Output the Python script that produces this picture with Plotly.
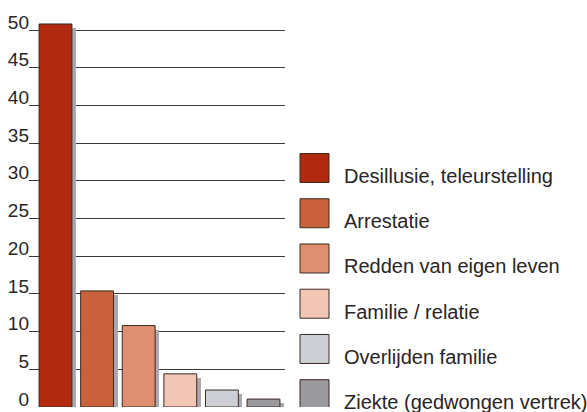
import plotly.graph_objects as go

categories = ["Desillusie, teleurstelling", "Arrestatie", "Redden van eigen leven",
              "Familie / relatie", "Overlijden familie", "Ziekte (gedwongen vertrek)"]
values = [50.8, 15.4, 10.8, 4.4, 2.25, 1.05]
colors = ["#B12A10", "#C9623C", "#DE8F71", "#F1C6B4", "#CDCFD4", "#9A999E"]
y_ticks = [0, 5, 10, 15, 20, 25, 30, 35, 40, 45, 50]

W, H = 587, 412
ml, mr, mt, mb = 29, 0, 0, 5
plot_w = W - ml - mr
plot_h = H - mt - mb
main_right = 285
step = 41.6                 # px per category
ppu = 7.54                  # px per y unit
x_lo = -26.5 / step
x_hi = 5 + (256 - 234.5) / step
y_top = plot_h / ppu
bw = 0.79
sdx = 4 / step
sdy = 4 / ppu
xs = list(range(len(categories)))

FONT = "Liberation Sans, Arial, sans-serif"
outline = "#3B2A24"

fig = go.Figure()
# shadows (offset right and down)
fig.add_trace(go.Bar(x=xs, y=values, width=bw, offset=-bw / 2 + sdx, base=-sdy,
                     marker=dict(color="#A9A9AF", line=dict(width=0)),
                     hoverinfo="skip", showlegend=False))
# bars
fig.add_trace(go.Bar(x=xs, y=values, width=bw, offset=-bw / 2,
                     marker=dict(color=colors, line=dict(color=outline, width=1)),
                     showlegend=False))
# custom legend
leg_rows = list(range(len(categories)))
fig.add_trace(go.Scatter(x=[24.5] * len(categories), y=leg_rows, mode="markers",
                         marker=dict(symbol="square", size=29, color=colors, line=dict(color=outline, width=1)),
                         xaxis="x3", yaxis="y3", hoverinfo="skip", showlegend=False))
for i, c in enumerate(categories):
    fig.add_annotation(x=52, y=i, xref="x3", yref="y3", text=c, showarrow=False,
                       xanchor="left", yanchor="middle", yshift=-8,
                       font=dict(family=FONT, size=20, color="#2a2424"))

dom_main = [0, (main_right - ml) / plot_w]
leg_px0 = 290
dom_leg = [(leg_px0 - ml) / plot_w, 1]
row0 = 168
rowstep = 45.24

fig.update_layout(
    width=W, height=H, margin=dict(l=ml, r=mr, t=mt, b=mb),
    paper_bgcolor="white", plot_bgcolor="rgba(0,0,0,0)",
    bargap=0, barmode="overlay",
    font=dict(family=FONT, size=19, color="#2a2424"),
    xaxis=dict(domain=dom_main, range=[x_lo, x_hi], showgrid=False, zeroline=False,
               showticklabels=False, ticks="", showline=False, fixedrange=True),
    yaxis=dict(domain=[0, 1], range=[0, y_top], tickvals=y_ticks, showgrid=True,
               gridcolor="#3a3a3a", gridwidth=1, zeroline=False, showline=False, ticks="",
               ticklabelstandoff=-1, ticklabelshift=-8, automargin=False,
               tickfont=dict(family=FONT, size=19, color="#2a2424")),
    xaxis3=dict(domain=dom_leg, range=[0, W - leg_px0], visible=False, anchor="y3"),
    yaxis3=dict(domain=[0, 1], range=[(plot_h - row0) / rowstep, -row0 / rowstep], visible=False, anchor="x3"),
)

fig.write_html("out.html", config={"displayModeBar": False, "staticPlot": True},
               post_script="document.body.style.margin='0';document.body.style.overflow='hidden';")
